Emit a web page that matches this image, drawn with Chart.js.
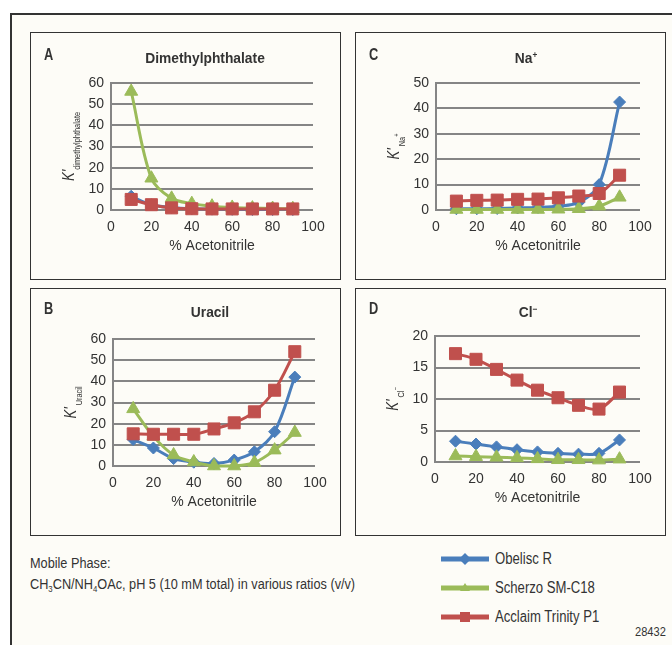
<!DOCTYPE html>
<html>
<head>
<meta charset="utf-8">
<script src="https://cdn.jsdelivr.net/npm/chart.js@4.4.1/dist/chart.umd.min.js"></script>
<style>
  body { margin: 0; width: 672px; height: 645px; overflow: hidden; position: relative; background: #fff;
         font-family: 'Liberation Sans', Arial, sans-serif; color: #333; }
  #frame { position: absolute; left: 10px; top: 13px; width: 720px; height: 700px;
           border-left: 2px solid #333; border-top: 2px solid #333; background: #fdfcf7; }
  .panel { position: absolute; width: 311px; height: 248px; box-sizing: border-box; border: 1.5px solid #333; }
  .cv { position: absolute; }
  .letter { position: absolute; font-weight: bold; font-size: 16px; transform: scaleX(0.8); transform-origin: left top; }
  .ptitle { position: absolute; font-weight: bold; font-size: 15px; white-space: nowrap;
            transform: translateX(-50%) scaleX(0.92); }
  .ptitle sup { font-size: 9px; vertical-align: 5px; }
  .narrow { position: absolute; white-space: nowrap; transform: scaleX(0.82); transform-origin: left top; }
  #note { left: 30px; top: 552px; font-size: 15.5px; line-height: 21px; }
  #note sub { font-size: 9.5px; vertical-align: -3px; }
  .leg { position: absolute; left: 441px; height: 20px; }
  .leg svg { position: absolute; left: 0; top: 3px; }
  .leg .narrow { left: 54px; top: 0; font-size: 16px; line-height: 20px; }
  #fig { left: 635px; top: 624px; font-size: 13.5px; }
</style>
</head>
<body>
<div id="frame"></div>

<div class="panel" style="left:30px;top:32px"></div>
<div class="panel" style="left:355px;top:32px"></div>
<div class="panel" style="left:30px;top:288px"></div>
<div class="panel" style="left:355px;top:288px"></div>

<canvas class="cv" id="chartA" width="311" height="248" style="left:30px;top:32px"></canvas>
<canvas class="cv" id="chartC" width="311" height="248" style="left:355px;top:32px"></canvas>
<canvas class="cv" id="chartB" width="311" height="248" style="left:30px;top:288px"></canvas>
<canvas class="cv" id="chartD" width="311" height="248" style="left:355px;top:288px"></canvas>

<div class="letter" style="left:44px;top:46px">A</div>
<div class="ptitle" style="left:205px;top:49px">Dimethylphthalate</div>
<div class="letter" style="left:369px;top:46px">C</div>
<div class="ptitle" style="left:526px;top:49px">Na<sup>+</sup></div>
<div class="letter" style="left:44px;top:300px">B</div>
<div class="ptitle" style="left:210px;top:303px">Uracil</div>
<div class="letter" style="left:369px;top:300px">D</div>
<div class="ptitle" style="left:528px;top:303px">Cl<sup>&minus;</sup></div>

<div id="note" class="narrow">Mobile Phase:<br>CH<sub>3</sub>CN/NH<sub>4</sub>OAc, pH 5 (10 mM total) in various ratios (v/v)</div>

<div class="leg" style="top:549px">
  <svg width="50" height="14"><rect x="0" y="4.5" width="48" height="5" fill="#4a7ebb"/><polygon points="24,1 30,7 24,13 18,7" fill="#4a7ebb"/></svg>
  <div class="narrow">Obelisc R</div>
</div>
<div class="leg" style="top:578px">
  <svg width="50" height="14"><rect x="0" y="4.5" width="48" height="5" fill="#9bbb59"/><polygon points="24,2 29,10 19,10" fill="#9bbb59"/></svg>
  <div class="narrow">Scherzo SM-C18</div>
</div>
<div class="leg" style="top:607px">
  <svg width="50" height="14"><rect x="0" y="4.5" width="48" height="5" fill="#c0504d"/><rect x="19" y="2" width="10" height="10" fill="#c0504d"/></svg>
  <div class="narrow">Acclaim Trinity P1</div>
</div>
<div id="fig" class="narrow">28432</div>

<script>
// % acetonitrile in the mobile phase
const pctAcn = [10, 20, 30, 40, 50, 60, 70, 80, 90];

// A - dimethylphthalate
const dmpObelisc = [6.5, 2.5, 1.2, 0.6, 0.4, 0.3, 0.2, 0.2, 0.2];
const dmpScherzo = [56, 15, 5.5, 3, 1.8, 1.2, 0.9, 0.7, 0.6];
const dmpAcclaim = [5, 2.5, 1, 0.6, 0.5, 0.5, 0.5, 0.5, 0.5];

// C - Na+
const naObelisc = [0.5, 0.5, 0.6, 0.8, 1, 1.5, 3, 10, 42.5];
const naScherzo = [0.2, 0.2, 0.2, 0.2, 0.2, 0.3, 0.5, 1.5, 5];
const naAcclaim = [3.5, 3.8, 3.9, 4.2, 4.3, 4.8, 5.5, 6.5, 13.7];

// B - uracil
const uraObelisc = [12.5, 8.5, 3.5, 1.8, 1.2, 2.8, 6.7, 16.2, 42];
const uraScherzo = [27, 14, 5.2, 1.9, 0, 0, 1.6, 7.5, 15.8];
const uraAcclaim = [15.2, 15, 15, 15, 17.5, 20.4, 25.6, 35.8, 54];

// D - Cl-
const clObelisc = [3.3, 2.85, 2.4, 1.95, 1.6, 1.37, 1.25, 1.37, 3.5];
const clScherzo = [0.95, 0.85, 0.75, 0.65, 0.5, 0.35, 0.35, 0.3, 0.45];
const clAcclaim = [17.2, 16.3, 14.7, 13, 11.4, 10.2, 9, 8.4, 11.1];

const xTicks = [0, 20, 40, 60, 80, 100];

const BLUE = '#4a7ebb', GREEN = '#9bbb59', RED = '#c0504d';
const FONT = "'Liberation Sans', Arial, sans-serif";

function pts(arr) {
    return arr.map((v, i) => ({ x: pctAcn[i], y: v }));
}

function series(obelisc, scherzo, acclaim) {
    const common = { borderWidth: 3, tension: 0.33, clip: false, pointBorderWidth: 1 };
    return [
        Object.assign({ label: 'Obelisc R', data: pts(obelisc), borderColor: BLUE, backgroundColor: BLUE,
            pointStyle: 'rectRot', pointRadius: 6, order: 2 }, common),
        Object.assign({ label: 'Scherzo SM-C18', data: pts(scherzo), borderColor: GREEN, backgroundColor: GREEN,
            pointStyle: 'triangle', pointRadius: 7.5, order: 1 }, common),
        Object.assign({ label: 'Acclaim Trinity P1', data: pts(acclaim), borderColor: RED, backgroundColor: RED,
            pointStyle: 'rect', pointRadius: 8.5, order: 0 }, common)
    ];
}

// draws the rotated K' label with its subscript (condensed like the original)
const yLabel = {
    id: 'yLabel',
    afterDraw(chart, args, opts) {
        const ctx = chart.ctx, a = chart.chartArea;
        const sx = 0.82;
        ctx.save();
        let total = 0;
        opts.parts.forEach(p => { ctx.font = p.font; p.w = ctx.measureText(p.text).width * sx; total += p.w; });
        ctx.translate(a.left - 37, (a.top + a.bottom) / 2);
        ctx.rotate(-Math.PI / 2);
        ctx.fillStyle = '#333';
        let x = -total / 2;
        opts.parts.forEach(p => {
            ctx.font = p.font;
            ctx.save();
            ctx.translate(x, p.dy);
            ctx.scale(sx, 1);
            ctx.fillText(p.text, 0, 0);
            ctx.restore();
            x += p.w;
        });
        ctx.restore();
    }
};

const kFont = 'italic 16px ' + FONT;
const subFont = '9px ' + FONT;
const supFont = '7px ' + FONT;

function makeChart(id, datasets, yMax, yStep, area, labelParts) {
    const W = 311, H = 248;
    new Chart(document.getElementById(id), {
        type: 'line',
        data: { datasets: datasets },
        plugins: [yLabel],
        options: {
            responsive: false,
            animation: false,
            devicePixelRatio: 1,
            layout: { padding: { left: 0, right: W - area.r, top: area.t, bottom: 0 } },
            plugins: {
                legend: { display: false },
                tooltip: { enabled: false },
                yLabel: { parts: labelParts }
            },
            scales: {
                x: {
                    type: 'linear', min: 0, max: 100,
                    afterBuildTicks: s => { s.ticks = xTicks.map(v => ({ value: v })); },
                    afterFit: s => { s.height = H - area.b; },
                    grid: { drawOnChartArea: false, drawTicks: false },
                    border: { display: false },
                    ticks: { padding: 9, color: '#333', font: { family: FONT, size: 14 }, maxRotation: 0 },
                    title: { display: true, text: '% Acetonitrile', color: '#333',
                             font: { family: FONT, size: 14 }, padding: { top: 0, bottom: H - area.b - 45 } }
                },
                y: {
                    min: 0, max: yMax,
                    afterFit: s => { s.width = area.l; },
                    grid: { color: '#858585', lineWidth: 2, drawTicks: false },
                    border: { display: true, color: '#858585', width: 2 },
                    ticks: { stepSize: yStep, padding: 7, color: '#333', font: { family: FONT, size: 14 } }
                }
            }
        }
    });
}

// chart-area edges relative to each panel box
makeChart('chartA', series(dmpObelisc, dmpScherzo, dmpAcclaim), 60, 10,
    { l: 81, r: 283, t: 51, b: 178 },
    [{ text: 'K', font: kFont, dy: 0 }, { text: "'", font: kFont, dy: 0 },
     { text: 'dimethylphthalate', font: subFont, dy: 6 }]);

makeChart('chartC', series(naObelisc, naScherzo, naAcclaim), 50, 10,
    { l: 81, r: 285, t: 51, b: 178 },
    [{ text: 'K', font: kFont, dy: 0 }, { text: "'", font: kFont, dy: 0 },
     { text: ' Na', font: subFont, dy: 6 }, { text: '+', font: supFont, dy: 0 }]);

makeChart('chartB', series(uraObelisc, uraScherzo, uraAcclaim), 60, 10,
    { l: 83, r: 285, t: 51, b: 178 },
    [{ text: 'K', font: kFont, dy: 0 }, { text: "'", font: kFont, dy: 0 },
     { text: ' Uracil', font: subFont, dy: 6 }]);

makeChart('chartD', series(clObelisc, clScherzo, clAcclaim), 20, 5,
    { l: 80, r: 285, t: 48, b: 174 },
    [{ text: 'K', font: kFont, dy: 0 }, { text: "'", font: kFont, dy: 0 },
     { text: ' Cl', font: subFont, dy: 6 }, { text: '\u2212', font: supFont, dy: 0 }]);
</script>
</body>
</html>
